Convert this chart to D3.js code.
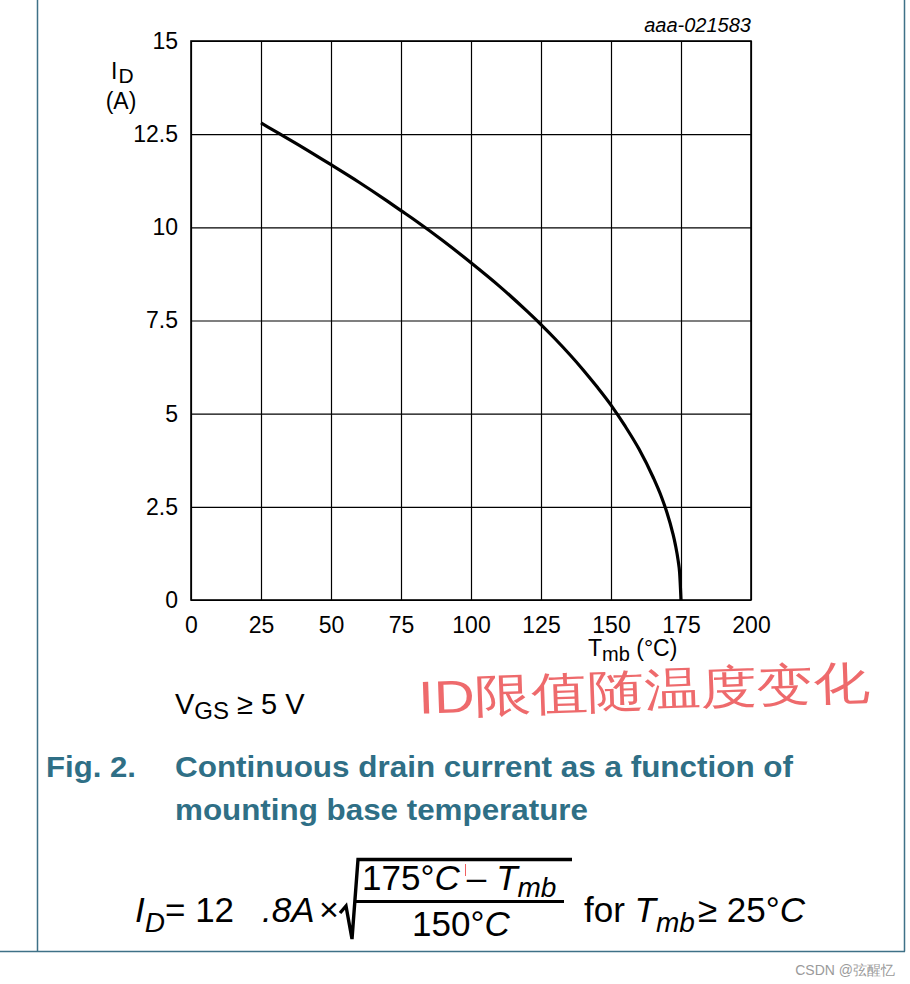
<!DOCTYPE html>
<html>
<head>
<meta charset="utf-8">
<script src="https://cdn.jsdelivr.net/npm/d3@7"></script>
<style>
  html, body { margin: 0; padding: 0; background: #fff; }
  svg { display: block; }
  text { font-family: "Liberation Sans", Arial, sans-serif; }
</style>
</head>
<body>
<svg id="chart" width="910" height="984"></svg>
<script>
// ---- data ----
const xTicks = [0, 25, 50, 75, 100, 125, 150, 175, 200];
const yTicks = [0, 2.5, 5, 7.5, 10, 12.5, 15];
const yTickLabels = ["0", "2.5", "5", "7.5", "10", "12.5", "15"];
const tempC = [25, 30, 40, 50, 60, 70, 75, 80, 90, 100, 110, 120, 125, 130, 140, 145, 150, 155, 160, 165, 168, 170, 172, 173, 174, 174.5, 175];
const currentA = [12.8, 12.58, 12.14, 11.68, 11.21, 10.71, 10.45, 10.19, 9.64, 9.05, 8.43, 7.75, 7.39, 7.01, 6.18, 5.72, 5.23, 4.67, 4.05, 3.30, 2.77, 2.34, 1.81, 1.48, 1.05, 0.74, 0];
const figId = "aaa-021583";
const captionNo = "Fig. 2.";
const captionLines = ["Continuous drain current as a function of", "mounting base temperature"];
const note = "ID限值随温度变化";
const watermark = "CSDN @弦醒忆";

const svg = d3.select("#chart");
const teal = "#2f6f86";
const tickFs = 23;

// page frame lines
svg.append("line").attr("x1", 37.5).attr("x2", 37.5).attr("y1", 0).attr("y2", 951.5).attr("stroke", "#3f7187").attr("stroke-width", 1.5);
svg.append("line").attr("x1", 0).attr("x2", 905).attr("y1", 951.5).attr("y2", 951.5).attr("stroke", "#3f7187").attr("stroke-width", 1.5);
svg.append("line").attr("x1", 904.5).attr("x2", 904.5).attr("y1", 0).attr("y2", 951.5).attr("stroke", "#3f7187").attr("stroke-width", 1.5);

const L = 191, R = 751, T = 41, B = 600;
const x = d3.scaleLinear().domain([0, 200]).range([L, R]);
const y = d3.scaleLinear().domain([0, 15]).range([B, T]);

// grid + x axis
const gx = svg.append("g").attr("transform", `translate(0,${B})`)
  .call(d3.axisBottom(x).tickValues(xTicks).tickSizeInner(-(B - T)).tickSizeOuter(0).tickPadding(17).tickFormat(d3.format("d")));
gx.select(".domain").remove();
gx.selectAll("line").attr("stroke", "#000").attr("stroke-width", 1.2);
gx.selectAll("text").attr("fill", "#000").attr("font-size", tickFs).attr("font-family", "Liberation Sans, Arial, sans-serif");

const gy = svg.append("g").attr("transform", `translate(${L},0)`)
  .call(d3.axisLeft(y).tickValues(yTicks).tickSizeInner(-(R - L)).tickSizeOuter(0).tickPadding(13).tickFormat((d, i) => yTickLabels[i]));
gy.select(".domain").remove();
gy.selectAll("line").attr("stroke", "#000").attr("stroke-width", 1.2);
gy.selectAll("text").attr("fill", "#000").attr("font-size", tickFs).attr("font-family", "Liberation Sans, Arial, sans-serif");

svg.append("rect").attr("x", L).attr("y", T).attr("width", R - L).attr("height", B - T)
  .attr("fill", "none").attr("stroke", "#000").attr("stroke-width", 1.6);

// curve
const pts = tempC.map((t, i) => [t, currentA[i]]);
svg.append("path").datum(pts)
  .attr("d", d3.line().x(d => x(d[0])).y(d => y(d[1])).curve(d3.curveMonotoneX))
  .attr("fill", "none").attr("stroke", "#000").attr("stroke-width", 3.2);

// figure id
svg.append("text").attr("x", 751).attr("y", 32).attr("text-anchor", "end")
  .attr("font-size", 20).attr("font-style", "italic").text(figId);

// y-axis title
const yt = svg.append("text").attr("x", 111).attr("y", 79).attr("font-size", tickFs);
yt.append("tspan").text("I");
yt.append("tspan").attr("font-size", 21).attr("dy", 4).attr("dx", 1).text("D");
svg.append("text").attr("x", 121).attr("y", 109).attr("text-anchor", "middle").attr("font-size", tickFs).text("(A)");

// x-axis title
const xt = svg.append("text").attr("x", 588).attr("y", 656).attr("font-size", tickFs);
xt.append("tspan").text("T");
xt.append("tspan").attr("font-size", 20).attr("dy", 5).text("mb");
xt.append("tspan").attr("dy", -5).text(" (°C)");

// VGS note
const vg = svg.append("text").attr("x", 175).attr("y", 714).attr("font-size", 29);
vg.append("tspan").text("V");
vg.append("tspan").attr("font-size", 24).attr("dy", 5).text("GS");
vg.append("tspan").attr("dy", -5).text(" ≥ 5 V");

// handwritten note
svg.append("text").attr("x", 418).attr("y", 706)
  .attr("font-family", "Noto Sans CJK SC, sans-serif").attr("font-weight", 300)
  .attr("font-size", 46).attr("fill", "#ec5a5c").attr("fill-opacity", 0.9)
  .attr("textLength", 452).attr("lengthAdjust", "spacingAndGlyphs")
  .attr("transform", "rotate(-2 640 690)")
  .text(note);

// caption
const capFs = 29.5;
svg.append("text").attr("x", 46).attr("y", 777).attr("font-size", capFs).attr("font-weight", "bold").attr("fill", teal)
  .attr("textLength", 90).attr("lengthAdjust", "spacingAndGlyphs").text(captionNo);
svg.append("text").attr("x", 175).attr("y", 777).attr("font-size", capFs).attr("font-weight", "bold").attr("fill", teal)
  .attr("textLength", 618).attr("lengthAdjust", "spacingAndGlyphs").text(captionLines[0]);
svg.append("text").attr("x", 175).attr("y", 820).attr("font-size", capFs).attr("font-weight", "bold").attr("fill", teal)
  .attr("textLength", 413).attr("lengthAdjust", "spacingAndGlyphs").text(captionLines[1]);

// formula
const fs = 35;
const f = svg.append("g").attr("font-size", fs).attr("fill", "#000");
const t1 = f.append("text").attr("x", 135).attr("y", 922);
t1.append("tspan").attr("font-style", "italic").text("I");
t1.append("tspan").attr("font-style", "italic").attr("font-size", 28).attr("dy", 10).text("D");
t1.append("tspan").attr("dy", -10).text("= 12");
f.append("text").attr("x", 262).attr("y", 922).attr("font-style", "italic").text(".8A");
f.append("text").attr("x", 319).attr("y", 921).attr("font-size", 34).text("×");
// radical sign
f.append("path").attr("d", "M340,913 L346,906 L352,939 L358,859.5 L572,859.5")
  .attr("fill", "none").attr("stroke", "#000").attr("stroke-width", 3.4).attr("stroke-linejoin", "miter");
f.append("line").attr("x1", 356).attr("x2", 564).attr("y1", 901.5).attr("y2", 901.5).attr("stroke", "#000").attr("stroke-width", 3);
const num = f.append("text").attr("x", 362).attr("y", 890);
num.append("tspan").text("175°");
num.append("tspan").attr("font-style", "italic").text("C");
num.append("tspan").attr("dx", 7).text("–");
num.append("tspan").attr("dx", 10).attr("font-style", "italic").text("T");
num.append("tspan").attr("font-style", "italic").attr("font-size", 28).attr("dy", 7).text("mb");
f.append("line").attr("x1", 465.5).attr("x2", 465.5).attr("y1", 864).attr("y2", 876).attr("stroke", "#f06060").attr("stroke-width", 1);
const den = f.append("text").attr("x", 412).attr("y", 936);
den.append("tspan").text("150°");
den.append("tspan").attr("font-style", "italic").text("C");
const t2 = f.append("text").attr("x", 584).attr("y", 922);
t2.append("tspan").text("for ");
t2.append("tspan").attr("font-style", "italic").text("T");
t2.append("tspan").attr("font-style", "italic").attr("font-size", 28).attr("dy", 10).text("mb");
t2.append("tspan").attr("dy", -10).attr("dx", 3).text("≥ 25°");
t2.append("tspan").attr("font-style", "italic").text("C");

// watermark
svg.append("text").attr("x", 895).attr("y", 975).attr("text-anchor", "end")
  .attr("font-family", "Noto Sans CJK SC, sans-serif").attr("font-size", 14).attr("fill", "#9a9a9a").text(watermark);
</script>
</body>
</html>
